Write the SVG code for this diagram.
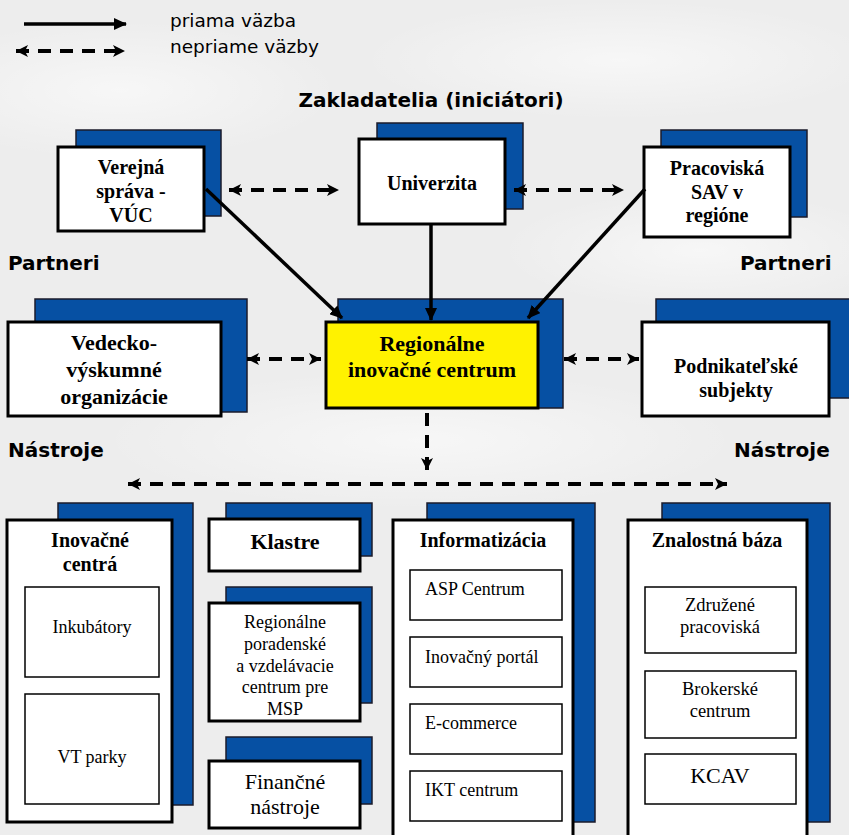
<svg xmlns="http://www.w3.org/2000/svg" width="849" height="835" viewBox="0 0 849 835">
<defs>
<style>
.bg{fill:#ededed}
.sh{fill:#0650a3;stroke:#1b1b2b;stroke-width:1.5}
.fr{fill:#ffffff;stroke:#000;stroke-width:3}
.yl{fill:#fff200;stroke:#000;stroke-width:3}
.in{fill:#ffffff;stroke:#000;stroke-width:1.5}
.tb{font-family:"Liberation Serif","Times New Roman",serif;font-weight:bold;fill:#000;text-anchor:middle}
.tr{font-family:"Liberation Serif","Times New Roman",serif;fill:#000;text-anchor:middle}
.tl{font-family:"Liberation Serif","Times New Roman",serif;fill:#000;text-anchor:start}
.lab{font-family:"DejaVu Sans",Verdana,sans-serif;font-weight:bold;font-size:20px;fill:#000}
.leg{font-family:"DejaVu Sans",Verdana,sans-serif;font-size:18.5px;fill:#000}
.sol{stroke:#000;stroke-width:3.5;fill:none}
.das{stroke:#000;stroke-width:4;fill:none;stroke-dasharray:13 9}
</style>
<marker id="ah" markerUnits="userSpaceOnUse" markerWidth="14" markerHeight="12" refX="12" refY="6" orient="auto">
<path d="M0,0 L13,6 L0,12 Z" fill="#000"/>
</marker>
<marker id="dh" markerUnits="userSpaceOnUse" markerWidth="14" markerHeight="14" refX="12" refY="7" orient="auto">
<path d="M0,1 L12,7 L0,13 L3,7 Z" fill="#000"/>
</marker>
<marker id="dt" markerUnits="userSpaceOnUse" markerWidth="14" markerHeight="14" refX="1" refY="7" orient="auto">
<path d="M13,1 L1,7 L13,13 L10,7 Z" fill="#000"/>
</marker>
<radialGradient id="cl" cx="0.5" cy="0.5" r="0.5">
<stop offset="0" stop-color="#ffffff" stop-opacity="0.55"/>
<stop offset="1" stop-color="#ffffff" stop-opacity="0"/>
</radialGradient>
</defs>

<rect class="bg" x="0" y="0" width="849" height="835"/>
<ellipse cx="120" cy="90" rx="220" ry="70" fill="url(#cl)"/>
<ellipse cx="620" cy="60" rx="260" ry="60" fill="url(#cl)"/>
<ellipse cx="420" cy="440" rx="320" ry="70" fill="url(#cl)"/>
<ellipse cx="700" cy="250" rx="200" ry="60" fill="url(#cl)"/>

<g id="legend">
<line class="sol" x1="24" y1="24" x2="126" y2="24" marker-end="url(#ah)"/>
<line class="das" x1="16" y1="51" x2="125" y2="51" marker-start="url(#dt)" marker-end="url(#dh)"/>
<text class="leg" x="170" y="27">priama väzba</text>
<text class="leg" x="170" y="53">nepriame väzby</text>
</g>

<g id="labels">
<text class="lab" x="431" y="107" text-anchor="middle">Zakladatelia (iniciátori)</text>
<text class="lab" x="8" y="270">Partneri</text>
<text class="lab" x="740" y="270">Partneri</text>
<text class="lab" x="8" y="457">Nástroje</text>
<text class="lab" x="734" y="457">Nástroje</text>
</g>

<g id="n-verejna">
<rect class="sh" x="76" y="130" width="145" height="86"/>
<rect class="fr" x="58" y="147" width="146" height="84"/>
<text class="tb" font-size="20" x="131" y="174">Verejná</text>
<text class="tb" font-size="20" x="131" y="198">správa -</text>
<text class="tb" font-size="20" x="131" y="222">VÚC</text>
</g>

<g id="n-univerzita">
<rect class="sh" x="377" y="123" width="146" height="86"/>
<rect class="fr" x="359" y="139" width="146" height="85"/>
<text class="tb" font-size="20" x="432" y="190">Univerzita</text>
</g>

<g id="n-sav">
<rect class="sh" x="661" y="130" width="146" height="87"/>
<rect class="fr" x="644" y="147" width="146" height="90"/>
<text class="tb" font-size="20" x="717" y="175">Pracoviská</text>
<text class="tb" font-size="20" x="717" y="199">SAV v</text>
<text class="tb" font-size="20" x="717" y="222">regióne</text>
</g>

<g id="n-vedecko">
<rect class="sh" x="35" y="299" width="212" height="113"/>
<rect class="fr" x="8" y="322" width="213" height="94"/>
<text class="tb" font-size="22" x="114" y="350">Vedecko-</text>
<text class="tb" font-size="22" x="114" y="377">výskumné</text>
<text class="tb" font-size="22" x="114" y="404">organizácie</text>
</g>

<g id="n-ric">
<rect class="sh" x="338" y="299" width="225" height="109"/>
<rect class="yl" x="326" y="322" width="212" height="86"/>
<text class="tb" font-size="22" x="432" y="351">Regionálne</text>
<text class="tb" font-size="22" x="432" y="377">inovačné centrum</text>
</g>

<g id="n-podnik">
<rect class="sh" x="656" y="299" width="195" height="99"/>
<rect class="fr" x="642" y="322" width="187" height="94"/>
<text class="tb" font-size="20" x="736" y="373">Podnikateľské</text>
<text class="tb" font-size="20" x="736" y="397">subjekty</text>
</g>

<g id="n-inovacne">
<rect class="sh" x="58" y="503" width="135" height="302"/>
<rect class="fr" x="7" y="520" width="165" height="302"/>
<text class="tb" font-size="20" x="90" y="547">Inovačné</text>
<text class="tb" font-size="20" x="90" y="571">centrá</text>
<rect class="in" x="25" y="587" width="134" height="90"/>
<text class="tr" font-size="18" x="92" y="633">Inkubátory</text>
<rect class="in" x="25" y="694" width="134" height="110"/>
<text class="tr" font-size="18" x="92" y="763">VT parky</text>
</g>

<g id="n-klastre">
<rect class="sh" x="226" y="503" width="146" height="53"/>
<rect class="fr" x="209" y="519" width="151" height="52"/>
<text class="tb" font-size="22" x="285" y="549">Klastre</text>
</g>

<g id="n-poradenske">
<rect class="sh" x="226" y="587" width="146" height="116"/>
<rect class="fr" x="209" y="603" width="151" height="118"/>
<text class="tr" font-size="18" x="285" y="628">Regionálne</text>
<text class="tr" font-size="18" x="285" y="650">poradenské</text>
<text class="tr" font-size="18" x="285" y="672">a vzdelávacie</text>
<text class="tr" font-size="18" x="285" y="693">centrum pre</text>
<text class="tr" font-size="18" x="285" y="715">MSP</text>
</g>

<g id="n-financne">
<rect class="sh" x="226" y="737" width="146" height="67"/>
<rect class="fr" x="209" y="761" width="151" height="67"/>
<text class="tr" font-size="22" x="285" y="789">Finančné</text>
<text class="tr" font-size="22" x="285" y="814">nástroje</text>
</g>

<g id="n-informatizacia">
<rect class="sh" x="427" y="503" width="168" height="319"/>
<rect class="fr" x="393" y="520" width="180" height="330"/>
<text class="tb" font-size="20" x="483" y="547">Informatizácia</text>
<rect class="in" x="410" y="570" width="152" height="50"/>
<text class="tl" font-size="18" x="425" y="595">ASP Centrum</text>
<rect class="in" x="410" y="637" width="152" height="50"/>
<text class="tl" font-size="18" x="425" y="663">Inovačný portál</text>
<rect class="in" x="410" y="704" width="152" height="50"/>
<text class="tl" font-size="18" x="425" y="729">E-commerce</text>
<rect class="in" x="410" y="771" width="152" height="50"/>
<text class="tl" font-size="18" x="425" y="796">IKT centrum</text>
</g>

<g id="n-znalostna">
<rect class="sh" x="662" y="503" width="168" height="319"/>
<rect class="fr" x="628" y="520" width="179" height="330"/>
<text class="tb" font-size="20" x="717" y="547">Znalostná báza</text>
<rect class="in" x="645" y="587" width="151" height="66"/>
<text class="tr" font-size="18.5" x="720" y="611">Združené</text>
<text class="tr" font-size="18.5" x="720" y="633">pracoviská</text>
<rect class="in" x="645" y="671" width="151" height="67"/>
<text class="tr" font-size="18.5" x="720" y="695">Brokerské</text>
<text class="tr" font-size="18.5" x="720" y="717">centrum</text>
<rect class="in" x="645" y="754" width="151" height="50"/>
<text class="tr" font-size="22" x="720" y="783">KCAV</text>
</g>

<g id="connectors">
<line class="sol" x1="206" y1="189" x2="342" y2="318" marker-end="url(#ah)"/>
<line class="sol" x1="431" y1="225" x2="431" y2="320" marker-end="url(#ah)"/>
<line class="sol" x1="645" y1="189" x2="528" y2="318" marker-end="url(#ah)"/>
<line class="das" x1="229" y1="190" x2="339" y2="190" marker-start="url(#dt)" marker-end="url(#dh)"/>
<line class="das" x1="514" y1="190" x2="624" y2="190" marker-start="url(#dt)" marker-end="url(#dh)"/>
<line class="das" x1="247" y1="359" x2="321" y2="359" marker-start="url(#dt)" marker-end="url(#dh)"/>
<line class="das" x1="564" y1="359" x2="639" y2="359" marker-start="url(#dt)" marker-end="url(#dh)"/>
<line class="das" x1="427" y1="413" x2="427" y2="470" marker-end="url(#dh)"/>
<line class="das" x1="128" y1="484" x2="727" y2="484" marker-start="url(#dt)" marker-end="url(#dh)"/>
</g>
</svg>
